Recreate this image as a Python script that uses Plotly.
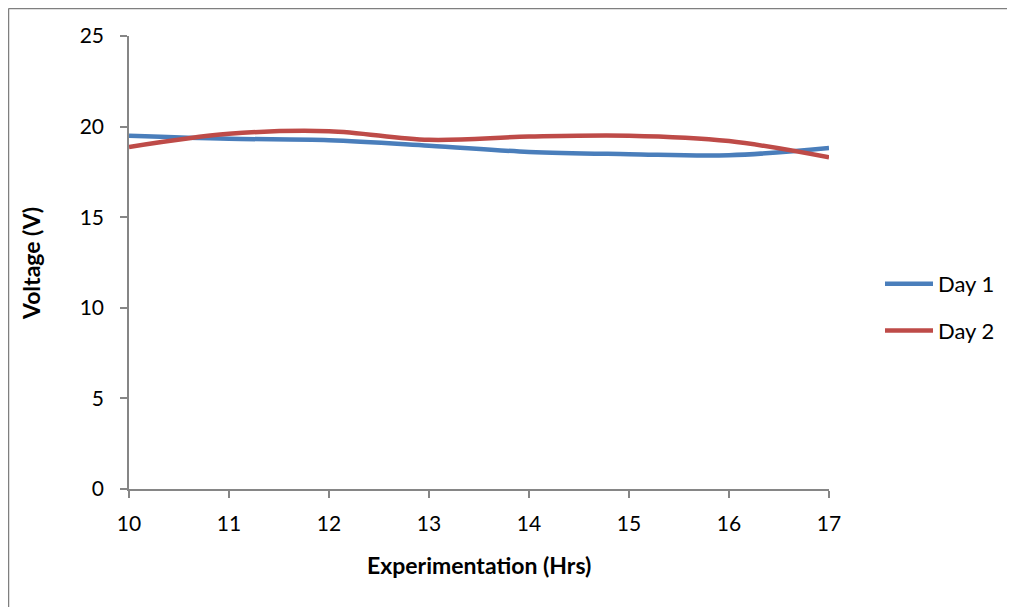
import plotly.graph_objects as go

hours = [10, 11, 12, 13, 14, 15, 16, 17]
day1 = [19.5, 19.33, 19.25, 18.95, 18.6, 18.48, 18.42, 18.82]
day2 = [18.87, 19.6, 19.75, 19.27, 19.45, 19.5, 19.2, 18.3]
y_ticks = [0, 5, 10, 15, 20, 25]

FONT = "Lato"
AX = "#868686"

fig = go.Figure()
fig.add_trace(go.Scatter(x=hours, y=day1, name="Day 1", mode="lines",
                         line=dict(color="#4A7EBB", width=4.5, shape="spline", smoothing=1),
                         legendgroup="a"))
fig.add_trace(go.Scatter(x=hours, y=day2, name="Day 2", mode="lines",
                         line=dict(color="#BE4B48", width=4.5, shape="spline", smoothing=1),
                         legendgroup="b"))

# page has an 8px body margin; work in figure-local pixels
OFF = 8
W, H = 1015 - OFF, 607 - OFF
L, T = 129 - OFF, 36 - OFF
R = W - (829 - OFF)
B = H - (489 - OFF)
pw, ph = W - L - R, H - T - B

def px(xs):
    return (xs - OFF - L) / pw

def py(ys):
    return (H - B - (ys - OFF)) / ph

fig.update_layout(
    width=W, height=H,
    margin=dict(l=L, r=R, t=T, b=B),
    paper_bgcolor="white", plot_bgcolor="white",
    font=dict(family=FONT, size=21, color="black"),
    showlegend=True,
    legend=dict(x=px(880), y=py(307.5), xanchor="left", yanchor="middle",
                traceorder="grouped", tracegroupgap=15, itemwidth=48,
                font=dict(size=22), bgcolor="rgba(0,0,0,0)"),
    xaxis=dict(range=[10, 17], tickvals=hours, showgrid=False, zeroline=False,
               showline=True, linecolor=AX, linewidth=1.5,
               ticks="outside", ticklen=7, tickcolor=AX, tickwidth=1.5,
               ticklabelstandoff=8, tickfont=dict(size=21)),
    yaxis=dict(range=[0, 25], tickvals=y_ticks, showgrid=False, zeroline=False,
               showline=True, linecolor=AX, linewidth=1.5,
               ticks="outside", ticklen=7, tickcolor=AX, tickwidth=1.5,
               ticklabelstandoff=12, tickfont=dict(size=21)),
    annotations=[
        dict(text="<b>Experimentation (Hrs)</b>", xref="paper", yref="paper",
             x=px(479), y=py(565), xanchor="center", yanchor="middle",
             showarrow=False, font=dict(size=23)),
        dict(text="<b>Voltage (V)</b>", xref="paper", yref="paper",
             x=px(31), y=py(263), xanchor="center", yanchor="middle",
             textangle=-90, showarrow=False, font=dict(size=23)),
    ],
    shapes=[
        dict(type="line", xref="paper", yref="paper", x0=px(8.5), x1=px(8.5),
             y0=py(8.5), y1=py(640), line=dict(color="#7f7f7f", width=1.5)),
        dict(type="line", xref="paper", yref="paper", x0=px(8.5), x1=px(1040),
             y0=py(8.5), y1=py(8.5), line=dict(color="#7f7f7f", width=1.5)),
    ],
)

fig.write_html("out.html")
